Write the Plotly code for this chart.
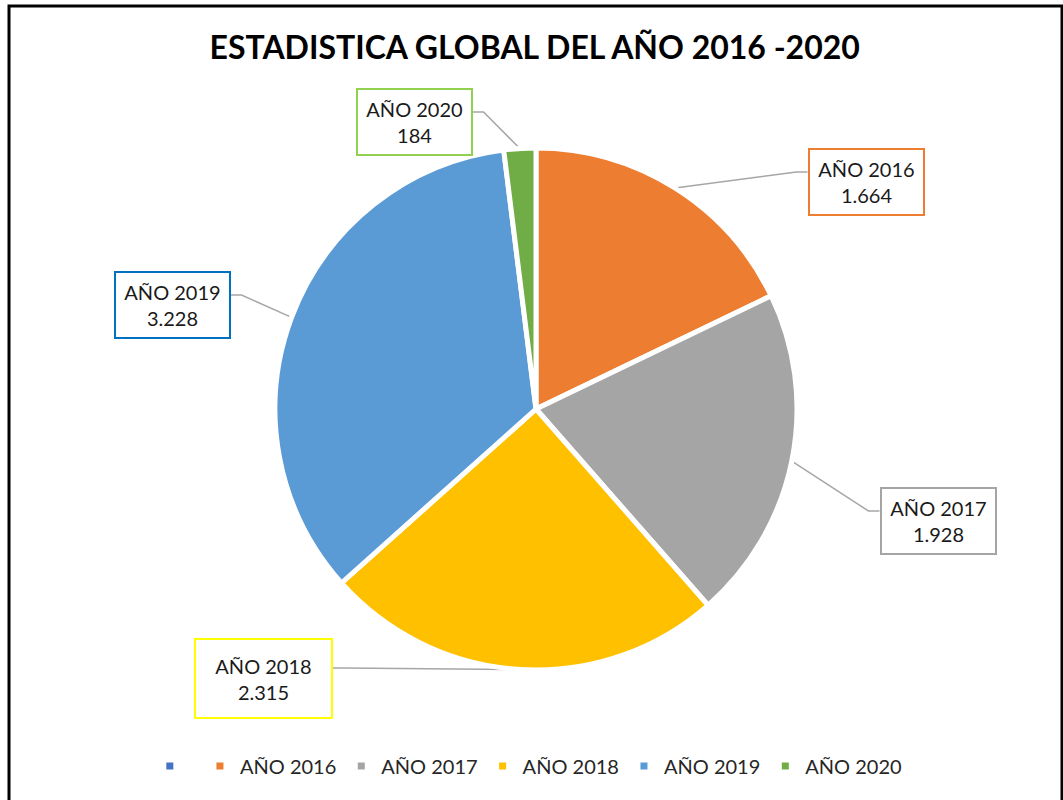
import numpy as np
import plotly.graph_objects as go

# ---------------------------------------------------------------------------
# Data
# ---------------------------------------------------------------------------
labels = [" ", "AÑO 2016", "AÑO 2017", "AÑO 2018", "AÑO 2019", "AÑO 2020"]
values = [0, 1664, 1928, 2315, 3228, 184]
value_text = ["", "1.664", "1.928", "2.315", "3.228", "184"]

SLICE_COLORS = ["#4472C4", "#ED7D31", "#A5A5A5", "#FFC000", "#5B9BD5", "#70AD47"]
BOX_COLORS = ["#4472C4", "#ED7D31", "#A5A5A5", "#FFFF00", "#0070C0", "#92D050"]

# label box centres (px from top-left) and inner sizes
BOX_POS = [None, (866, 182), (938, 521), (263, 678), (172, 305), (414, 122)]
BOX_SIZE = [None, (111, 62), (111, 62), (133, 75), (111, 62), (111, 62)]

W, H = 1063, 800
CX, CY, R = 536, 409, 261  # pie centre / radius in px
FONT = "Lato, 'Open Sans', sans-serif"


def px(x, y):
    """pixel (from top-left) -> paper coords"""
    return x / W, 1 - y / H


fig = go.Figure()
fig.add_trace(
    go.Pie(
        labels=labels,
        values=values,
        sort=False,
        direction="clockwise",
        rotation=0,
        textinfo="none",
        hoverinfo="label+value",
        marker=dict(colors=SLICE_COLORS, line=dict(color="white", width=5)),
        domain=dict(x=[(CX - R) / W, (CX + R) / W],
                    y=[(H - CY - R) / H, (H - CY + R) / H]),
    )
)

# boxed labels + elbow leader lines, tip at mid-angle of each slice
total = float(np.sum(values))
cum = np.cumsum(values) - np.array(values) / 2.0
for i, lab in enumerate(labels):
    if values[i] == 0:
        continue
    ang = np.deg2rad(cum[i] / total * 360.0)
    tx = CX + R * np.sin(ang)
    ty = CY - R * np.cos(ang)
    bx, by = BOX_POS[i]
    bw, bh = BOX_SIZE[i]
    bx_p, by_p = px(bx, by)
    fig.add_annotation(
        x=bx_p, y=by_p, xref="paper", yref="paper",
        xanchor="center", yanchor="middle",
        text=f"{lab}<br>{value_text[i]}", showarrow=False,
        font=dict(family=FONT, size=20, color="#1a1a1a"),
        bgcolor="white", bordercolor=BOX_COLORS[i], borderwidth=2,
        width=bw, height=bh, align="center",
    )
    half = bw / 2 + 3
    side = -1 if tx < bx else 1
    attach_x = bx + side * half
    attach_y = by - 10
    elbow_x = attach_x + side * 11
    pts = [px(tx, ty), px(elbow_x, attach_y), px(attach_x, attach_y)]
    path = "M {} {} L {} {} L {} {}".format(*[c for p in pts for c in p])
    fig.add_shape(type="path", path=path, xref="paper", yref="paper",
                  line=dict(color="#A6A6A6", width=1.5), layer="below")

# chart frame
fig.add_shape(type="rect", xref="paper", yref="paper",
              x0=9 / W, x1=1062 / W, y0=-0.02, y1=1 - 6 / H,
              line=dict(color="black", width=3))

fig.update_layout(
    width=W, height=H,
    title=dict(text="<b>ESTADISTICA GLOBAL DEL AÑO 2016 -2020</b>",
               x=0.503, xanchor="center", y=1 - 48 / H, yanchor="middle",
               font=dict(family=FONT, size=32, color="black")),
    margin=dict(l=0, r=0, t=0, b=0),
    paper_bgcolor="white",
    legend=dict(orientation="h", x=0.497, xanchor="center", y=1 - 766 / H, yanchor="middle",
                font=dict(family=FONT, size=20, color="#262626")),
)

fig.write_html(
    "out.html",
    config={"displayModeBar": False},
    post_script="document.body.style.margin='0';document.body.style.overflow='hidden';",
)
